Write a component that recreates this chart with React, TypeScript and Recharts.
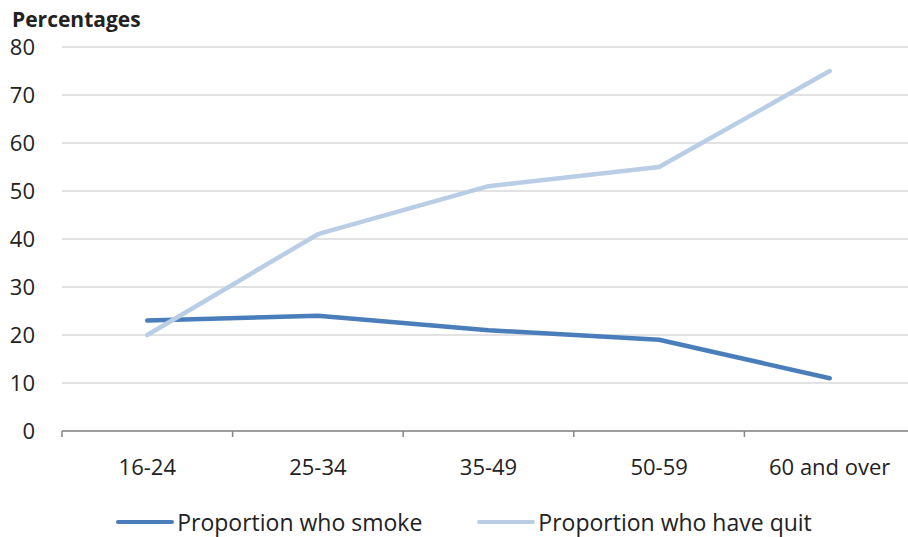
import React from "react";
import {
    LineChart,
    Line,
    XAxis,
    YAxis,
    CartesianGrid,
    Legend,
    Label,
} from "recharts";

const ageGroups = ["16-24", "25-34", "35-49", "50-59", "60 and over"];
const smokeValues = [23, 24, 21, 19, 11];
const quitValues = [20, 41, 51, 55, 75];
const yTicks = [0, 10, 20, 30, 40, 50, 60, 70, 80];

const series = [
    { key: "smoke", name: "Proportion who smoke", color: "#4a7ebb" },
    { key: "quit", name: "Proportion who have quit", color: "#b9cde5" },
];

const data = ageGroups.map((age, i) => ({
    age,
    smoke: smokeValues[i],
    quit: quitValues[i],
}));

const WIDTH = 920;
const HEIGHT = 537;
const MARGIN = { top: 47, right: 5, bottom: 56, left: 0 };
const Y_WIDTH = 62;
const PLOT_W = WIDTH - MARGIN.left - MARGIN.right - Y_WIDTH;
const BAND = PLOT_W / ageGroups.length;

const FONT = "'Open Sans', sans-serif";
const TEXT = "#222";
const AXIS = "#868686";

// label in the middle of each band, tick mark on the band's left edge
const XTick = (props: any) => {
    const { x, y, payload } = props;
    const edge = x - BAND / 2;
    return (
        <g>
            <line x1={edge} x2={edge} y1={y - 6} y2={y} stroke={AXIS} strokeWidth={1.5} />
            <text
                x={x}
                y={y + 38}
                textAnchor="middle"
                fontFamily={FONT}
                fontSize={22}
                fill={TEXT}
            >
                {payload.value}
            </text>
        </g>
    );
};

// legend keeps the series order instead of sorting by name
const LegendContent = () => (
    <div
        style={{
            display: "flex",
            justifyContent: "center",
            alignItems: "center",
            height: 28,
            fontFamily: FONT,
            fontSize: 23,
            color: TEXT,
        }}
    >
        {series.map((s, i) => (
            <div
                key={s.key}
                style={{
                    display: "flex",
                    alignItems: "center",
                    marginRight: i < series.length - 1 ? 55 : 0,
                }}
            >
                <span
                    style={{
                        display: "inline-block",
                        width: 58,
                        height: 4,
                        borderRadius: 2,
                        background: s.color,
                        marginRight: 3,
                    }}
                />
                <span style={{ lineHeight: "28px", whiteSpace: "nowrap" }}>{s.name}</span>
            </div>
        ))}
    </div>
);

export default function App() {
    return (
        <div
            style={{
                position: "absolute",
                left: 0,
                top: 0,
                width: 908,
                height: HEIGHT,
                overflow: "hidden",
                background: "#fff",
            }}
        >
            <LineChart width={WIDTH} height={HEIGHT} data={data} margin={MARGIN}>
                <CartesianGrid vertical={false} stroke="#d9d9d9" strokeWidth={1.5} />
                <XAxis
                    dataKey="age"
                    height={50}
                    padding={{ left: BAND / 2, right: BAND / 2 }}
                    stroke={AXIS}
                    strokeWidth={1.5}
                    tickLine={false}
                    tickSize={6}
                    tickMargin={0}
                    interval={0}
                    tick={<XTick />}
                />
                <YAxis
                    width={Y_WIDTH}
                    domain={[0, 80]}
                    ticks={yTicks}
                    interval={0}
                    axisLine={false}
                    tickLine={false}
                    tickSize={0}
                    tickMargin={27}
                    tick={{ fontFamily: FONT, fontSize: 22, fill: TEXT }}
                >
                    <Label
                        content={(p: any) => (
                            <text
                                x={12}
                                y={p.viewBox.y - 20}
                                fontFamily={FONT}
                                fontSize={21}
                                fontWeight="bold"
                                fill={TEXT}
                            >
                                Percentages
                            </text>
                        )}
                    />
                </YAxis>
                <Legend
                    verticalAlign="middle"
                    layout="horizontal"
                    align="center"
                    wrapperStyle={{ top: 508, left: 0, width: 928, height: 28 }}
                    content={<LegendContent />}
                />
                {series.map((s) => (
                    <Line
                        key={s.key}
                        type="linear"
                        dataKey={s.key}
                        name={s.name}
                        stroke={s.color}
                        strokeWidth={4.5}
                        strokeLinejoin="round"
                        strokeLinecap="round"
                        dot={false}
                        activeDot={false}
                        isAnimationActive={false}
                    />
                ))}
            </LineChart>
        </div>
    );
}
